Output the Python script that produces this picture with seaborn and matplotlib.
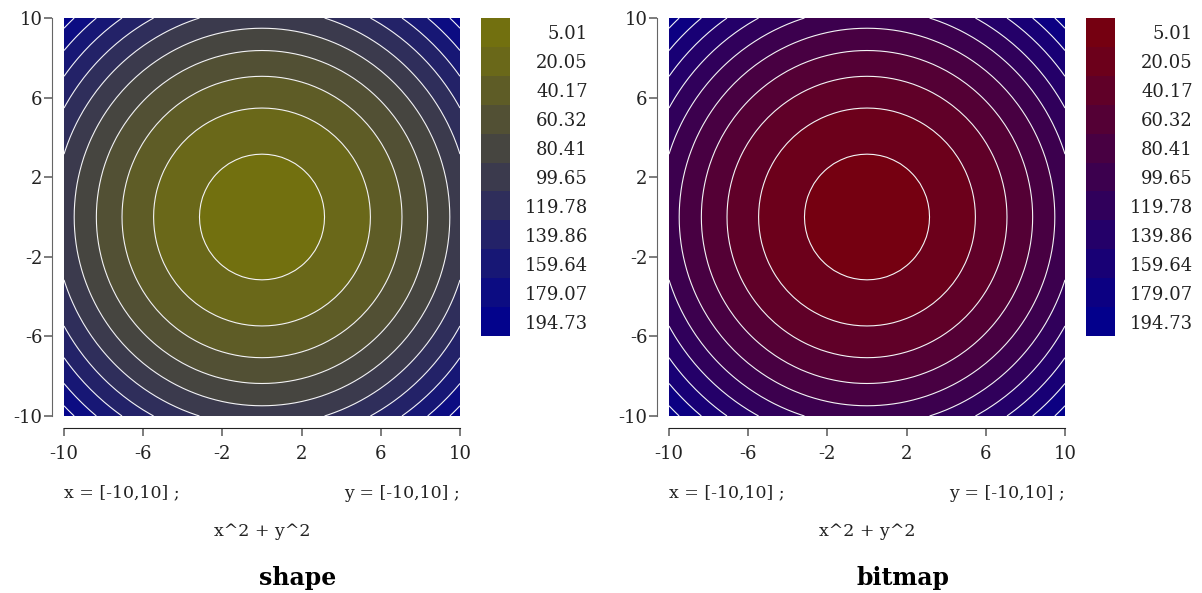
import numpy as np
import seaborn as sns
import matplotlib.pyplot as plt

# grid of the function x^2 + y^2 on [-10,10]
x_values = np.linspace(-10, 10, 61)
y_values = np.linspace(-10, 10, 61)
levels = [0, 10, 30, 50, 70, 90, 110, 130, 150, 170, 190, 200]
band_labels = [5.01, 20.05, 40.17, 60.32, 80.41, 99.65, 119.78, 139.86, 159.64, 179.07, 194.73]
ticks = [-10, -6, -2, 2, 6, 10]
panels = ['shape', 'bitmap']
low_colors = ['#75730c', '#78000e']
high_color = '#00008f'

sns.set_style('white')
plt.rcParams['font.family'] = ['DejaVu Serif']
plt.rcParams['font.size'] = 13
plt.rcParams['axes.unicode_minus'] = False

X, Y = np.meshgrid(x_values, y_values)
Z = X ** 2 + Y ** 2

fig = plt.figure(figsize=(12.02, 5.93), dpi=100)
W, H = 1202, 593

for i, name in enumerate(panels):
    off = 605 * i
    cmap = sns.blend_palette([low_colors[i], high_color], as_cmap=True)
    band_colors = [cmap(v / 200) for v in band_labels]

    ax = fig.add_axes([(64 + off) / W, (593 - 416) / H, 396 / W, 398 / H])
    ax.contourf(X, Y, Z, levels=levels, colors=band_colors)
    ax.contour(X, Y, Z, levels=levels[1:-1], colors='#f4f4f4', linewidths=0.8)
    ax.set_xlim(-10, 10)
    ax.set_ylim(-10, 10)
    ax.set_xticks(ticks)
    ax.set_yticks(ticks)
    for s in ['top', 'right']:
        ax.spines[s].set_visible(False)
    # 12 px outward
    ax.spines['left'].set_position(('outward', 8.6))
    ax.spines['bottom'].set_position(('outward', 8.6))
    ax.spines['left'].set_color('#666666')
    ax.spines['bottom'].set_color('#222222')
    ax.tick_params(axis='both', bottom=True, left=True, length=6, width=1.2,
                   colors='#666666', labelcolor='#222222', labelsize=13,
                   direction='out')
    ax.tick_params(axis='x', pad=6)
    ax.tick_params(axis='y', pad=1)

    # discrete legend bar
    cax = fig.add_axes([(481 + off) / W, (593 - 336) / H, 29 / W, 318 / H])
    sns.heatmap(np.array(band_labels)[:, None], cmap=cmap, vmin=0, vmax=200,
                cbar=False, ax=cax, xticklabels=False,
                yticklabels=[f'{v:.2f}' for v in band_labels])
    cax.yaxis.tick_right()
    cax.tick_params(axis='y', right=True, length=0, pad=56, labelsize=13)
    for t in cax.get_yticklabels():
        t.set_rotation(0)
        t.set_ha('right')
        t.set_color('#222222')

    fig.text((64 + off) / W, (593 - 493) / H, 'x = [-10,10] ;', ha='left',
             va='center', fontsize=12.5, color='#222222')
    fig.text((460 + off) / W, (593 - 493) / H, 'y = [-10,10] ;', ha='right',
             va='center', fontsize=12.5, color='#222222')
    fig.text((262 + off) / W, (593 - 531) / H, 'x^2 + y^2', ha='center',
             va='center', fontsize=12.5, color='#222222')
    fig.text((298 + off) / W, (593 - 578) / H, name, ha='center',
             va='center', fontsize=17, fontweight='bold', color='black')

fig.savefig('out.png', dpi=100)
